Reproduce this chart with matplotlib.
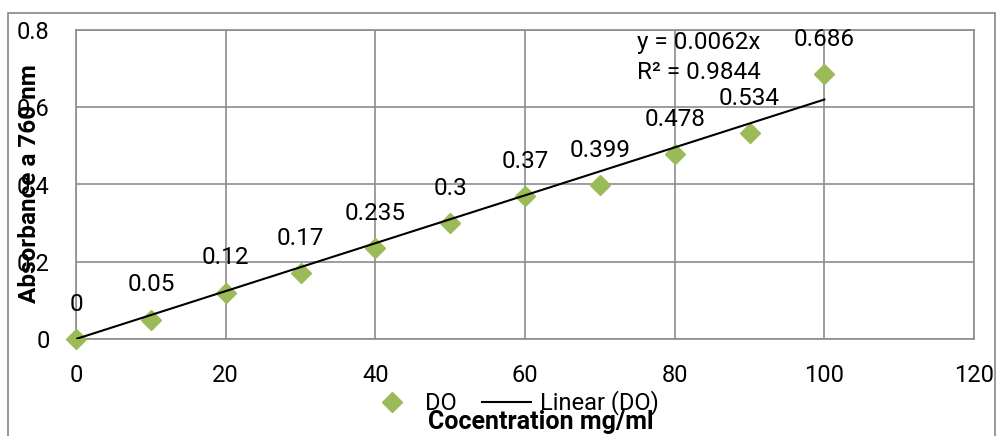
import numpy as np
import matplotlib.pyplot as plt
from matplotlib.lines import Line2D
from matplotlib.patches import Rectangle

plt.rcParams['font.family'] = ['Roboto', 'DejaVu Sans']

conc = [0, 10, 20, 30, 40, 50, 60, 70, 80, 90, 100]
absorb = [0, 0.05, 0.12, 0.17, 0.235, 0.3, 0.37, 0.399, 0.478, 0.534, 0.686]
labels = ['0', '0.05', '0.12', '0.17', '0.235', '0.3', '0.37', '0.399', '0.478', '0.534', '0.686']
slope = 0.0062
r2 = 0.9844

W, H = 996, 436
fig = plt.figure(figsize=(W / 100, H / 100), dpi=100)

# chart border
fig.patches.append(Rectangle((8 / W, -0.1), (995 - 8) / W, 1.1 - 13 / H,
                             transform=fig.transFigure, fill=False,
                             edgecolor='#868686', lw=1.2))

ax = fig.add_axes([76 / W, (H - 339) / H, (974 - 76) / W, (339 - 30) / H])
green = '#9BBB59'
grid_c = '#8c8c8c'

ax.plot(conc, absorb, 'D', color=green, ms=9.7, zorder=3, clip_on=False)
xs = np.array([0, 100])
ax.plot(xs, slope * xs, color='black', lw=1.5, zorder=4)

for x, y, t in zip(conc, absorb, labels):
    ax.annotate(t, (x, y), xytext=(0, 25), textcoords='offset points',
                ha='center', va='center', fontsize=17.5)

ax.text(75.0, 0.768, f'y = {slope}x', fontsize=17.5, va='center', ha='left')
ax.text(75.0, 0.690, f'R² = {r2}', fontsize=17.5, va='center', ha='left')

ax.set_xlim(0, 120)
ax.set_ylim(0, 0.8)
ax.set_xticks(range(0, 121, 20))
ax.set_yticks([0, 0.2, 0.4, 0.6, 0.8])
ax.set_yticklabels(['0', '0.2', '0.4', '0.6', '0.8'])
ax.grid(True, color=grid_c, lw=1.2)
ax.set_axisbelow(True)
for s in ax.spines.values():
    s.set_color(grid_c)
    s.set_linewidth(1.2)
ax.tick_params(length=0, labelsize=17)
ax.tick_params(axis='x', pad=18)
ax.tick_params(axis='y', pad=19)

fig.text(30 / W, 1 - 184 / H, 'Absorbance a 760 nm', rotation=90,
         ha='center', va='center', fontsize=17.5, fontweight='bold')
fig.text(541 / W, 1 - 422 / H, 'Cocentration mg/ml', ha='center', va='center',
         fontsize=18, fontweight='bold')

handles = [Line2D([], [], marker='D', ls='none', color=green, ms=9.7),
           Line2D([], [], color='black', lw=1.5)]
fig.legend(handles, ['DO', 'Linear (DO)'], loc='center', ncol=2,
           bbox_to_anchor=(513 / W, 1 - 403 / H), frameon=False,
           fontsize=17, handlelength=2.1, columnspacing=1.05,
           handletextpad=0.35, borderpad=0, borderaxespad=0)

fig.savefig('out.png', dpi=100)
